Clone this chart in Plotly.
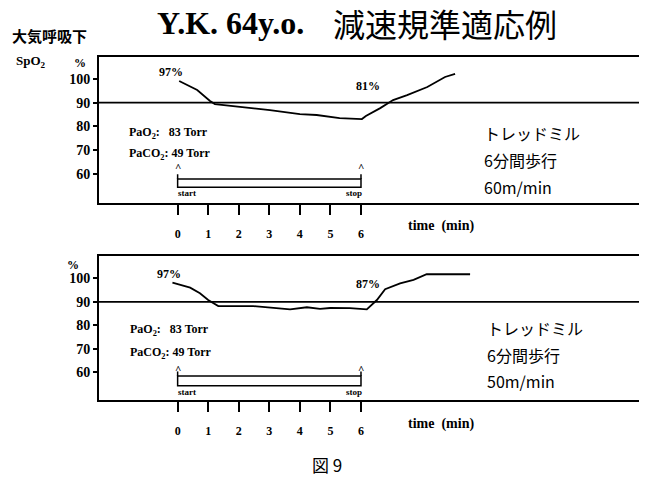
import plotly.graph_objects as go

# page has an 8px body margin, so the figure is sized to the visible area
OFF = 8
W, H = 647 - OFF, 479 - OFF

# ---- data ----
time_ticks = [0, 1, 2, 3, 4, 5, 6]
spo2_ticks = [60, 70, 80, 90, 100]
threshold = 90

top_t = [0.05, 0.64, 1.06, 1.22, 2.04, 3.02, 4.0, 4.55, 5.3, 6.03, 6.16, 6.63, 7.05, 7.51, 8.17, 8.6, 8.75, 9.08]
top_v = [99.1, 95.3, 90.7, 89.4, 88.2, 86.9, 85.2, 84.8, 83.5, 83.1, 84.4, 87.7, 91.1, 93.2, 96.6, 99.5, 100.8, 102.1]

bot_t = [-0.17, 0.41, 0.73, 1.0, 1.33, 2.47, 3.68, 4.23, 4.66, 4.99, 5.64, 6.19, 6.52, 6.79, 7.28, 7.72, 8.15, 8.7, 9.57]
bot_v = [98.2, 96.1, 93.7, 90.8, 88.2, 88.2, 86.8, 87.7, 87.0, 87.4, 87.3, 86.8, 90.8, 95.4, 97.9, 99.4, 101.8, 101.9, 101.8]

walk_start, walk_stop = 0, 6
top_labels = ["97%", "81%"]
bot_labels = ["97%", "87%"]
pao2_text = "PaO<sub>2</sub>:\u00a0\u00a0\u00a083 Torr"
paco2_text = "PaCO<sub>2</sub>: 49 Torr"
top_desc = ["トレッドミル", "6分間歩行", "60m/min"]
bot_desc = ["トレッドミル", "6分間歩行", "50m/min"]

SERIF = "Liberation Serif"
JP = "Noto Sans CJK JP"


def px(x):
    return (x - OFF) / W


def py(y):
    return 1 - (y - OFF) / H


fig = go.Figure()
fig.add_trace(go.Scatter(x=top_t, y=top_v, mode="lines", line=dict(color="black", width=1.8),
                         xaxis="x", yaxis="y", showlegend=False, hoverinfo="skip"))
fig.add_trace(go.Scatter(x=bot_t, y=bot_v, mode="lines", line=dict(color="black", width=1.8),
                         xaxis="x2", yaxis="y2", showlegend=False, hoverinfo="skip"))

xr = [-2.573, 15.13]
xdom = [px(99), px(640)]
common_x = dict(range=xr, domain=xdom, showgrid=False, zeroline=False, showline=True,
                linecolor="black", linewidth=2, mirror=True, tickmode="array",
                tickvals=time_ticks, ticks="outside", ticklen=10, tickwidth=1.5,
                tickcolor="black", ticklabelstandoff=9,
                tickfont=dict(family=SERIF, size=12, color="black", weight="bold"))
common_y = dict(showgrid=False, zeroline=False, showline=True, linecolor="black",
                linewidth=2, mirror=True, tickmode="array", tickvals=spo2_ticks,
                ticks="outside", ticklen=4, tickwidth=1.5, tickcolor="black",
                tickfont=dict(family=SERIF, size=14, color="black", weight="bold"))

fig.update_layout(
    width=W, height=H, margin=dict(l=0, r=0, t=0, b=0),
    paper_bgcolor="white", plot_bgcolor="white",
    xaxis=dict(**common_x, anchor="y"),
    yaxis=dict(**common_y, range=[47.96, 109.35], domain=[py(202.5), py(56.7)], anchor="x"),
    xaxis2=dict(**common_x, anchor="y2"),
    yaxis2=dict(**common_y, range=[48.1, 109.6], domain=[py(400), py(256)], anchor="x2"),
)

shapes = []
anns = []
panels = [
    dict(xr="x", yr="y", labels=top_labels, lab_pos=[(-0.22, 102.9), (6.23, 97.0)],
         pa=(-1.66, 77.2, 68.4), desc=top_desc, desc_pos=(9.96, [77.2, 65.9, 54.5]),
         rect=(54.4, 57.85), caret=62.8, ss=52.0),
    dict(xr="x2", yr="y2", labels=bot_labels, lab_pos=[(-0.28, 101.9), (6.23, 97.6)],
         pa=(-1.62, 78.0, 68.2), desc=bot_desc, desc_pos=(10.06, [78.8, 67.3, 56.2]),
         rect=(54.2, 58.3), caret=61.2, ss=51.5),
]
for p in panels:
    xr_, yr_ = p["xr"], p["yr"]
    # threshold line
    shapes.append(dict(type="line", xref=f"{xr_} domain", yref=yr_, x0=0, x1=1,
                       y0=threshold, y1=threshold, line=dict(color="black", width=1.8)))
    # start/stop bracket
    shapes.append(dict(type="rect", xref=xr_, yref=yr_, x0=walk_start, x1=walk_stop,
                       y0=p["rect"][0], y1=p["rect"][1], line=dict(color="black", width=1.5)))
    for xv in (walk_start, walk_stop):
        shapes.append(dict(type="line", xref=xr_, yref=yr_, x0=xv, x1=xv,
                           y0=p["rect"][1], y1=p["rect"][1] + 2.0,
                           line=dict(color="black", width=1.5)))
        anns.append(dict(xref=xr_, yref=yr_, x=xv, y=p["caret"], text="^", showarrow=False,
                         font=dict(family=SERIF, size=11, color="black", weight="bold")))
    anns.append(dict(xref=xr_, yref=yr_, x=walk_start - 0.05, y=p["ss"], text="start",
                     xanchor="left", showarrow=False,
                     font=dict(family=SERIF, size=9, color="black", weight="bold")))
    anns.append(dict(xref=xr_, yref=yr_, x=walk_stop + 0.1, y=p["ss"], text="stop",
                     xanchor="right", showarrow=False,
                     font=dict(family=SERIF, size=9, color="black", weight="bold")))
    # percent labels
    for txt, (lx, ly) in zip(p["labels"], p["lab_pos"]):
        anns.append(dict(xref=xr_, yref=yr_, x=lx, y=ly, text=txt, showarrow=False,
                         font=dict(family=SERIF, size=12, color="black", weight="bold")))
    # blood gas
    pax, pay1, pay2 = p["pa"]
    for txt, yv in ((pao2_text, pay1), (paco2_text, pay2)):
        anns.append(dict(xref=xr_, yref=yr_, x=pax, y=yv, text=txt, xanchor="left",
                         showarrow=False,
                         font=dict(family=SERIF, size=12, color="black", weight="bold")))
    dx, dys = p["desc_pos"]
    for txt, yv in zip(p["desc"], dys):
        anns.append(dict(xref=xr_, yref=yr_, x=dx, y=yv, text=txt, xanchor="left",
                         showarrow=False, font=dict(family=JP, size=16, color="black")))


def paper_text(x, y, text, font, xanchor="center"):
    return dict(xref="paper", yref="paper", x=px(x), y=py(y), text=text,
                xanchor=xanchor, yanchor="middle", showarrow=False, font=font)


bold_serif12 = dict(family=SERIF, size=12, color="black", weight="bold")
time_font = dict(family=SERIF, size=14, color="black", weight="bold")
anns += [
    paper_text(441, 226, "time\u00a0\u00a0(min)", time_font),
    paper_text(441, 424, "time\u00a0\u00a0(min)", time_font),
    paper_text(31, 62, "SpO<sub>2</sub>", dict(family=SERIF, size=13, color="black", weight="bold")),
    paper_text(80, 63, "%", bold_serif12),
    paper_text(73, 265, "%", bold_serif12),
    paper_text(49, 36, "大気呼吸下", dict(family=JP, size=15, color="black", weight="bold")),
    paper_text(306, 23, "Y.K. 64y.o.", dict(family=SERIF, size=32, color="black", weight="bold"),
               xanchor="right"),
    paper_text(331, 23, "減速規準適応例", dict(family=JP, size=32, color="black", weight="normal"),
               xanchor="left"),
    paper_text(327, 464, "図 9", dict(family=JP, size=17, color="black")),
]

fig.update_layout(shapes=shapes, annotations=anns)
fig.write_html("out.html")
